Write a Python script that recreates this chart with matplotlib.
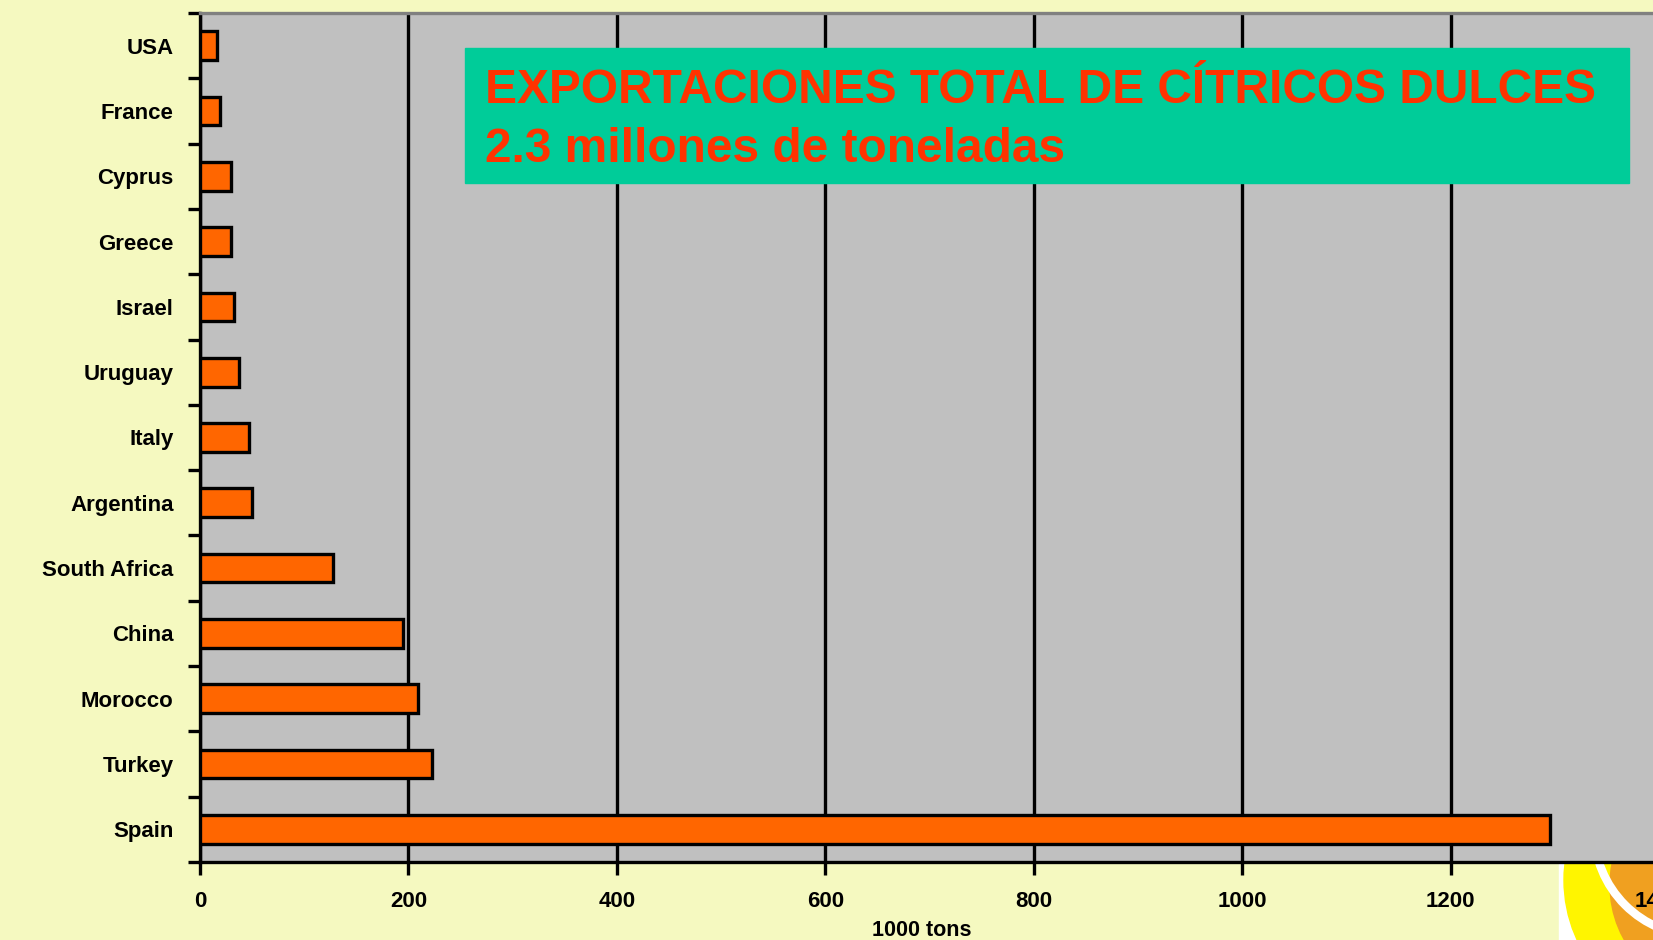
import matplotlib.pyplot as plt
from matplotlib.patches import Rectangle, Circle, Arc

# datos (1000 t)
countries = ['USA', 'France', 'Cyprus', 'Greece', 'Israel', 'Uruguay', 'Italy',
             'Argentina', 'South Africa', 'China', 'Morocco', 'Turkey', 'Spain']
exports = [16, 19, 30, 30, 33, 37, 47, 50, 128, 195, 209, 223, 1295]
xticks = [0, 200, 400, 600, 800, 1000, 1200, 1400]

title1 = 'EXPORTACIONES TOTAL DE CÍTRICOS DULCES'
title2 = '2.3 millones de toneladas'

plt.rcParams['font.family'] = ['Liberation Sans', 'DejaVu Sans']
plt.rcParams['font.weight'] = 'bold'

W, H = 1653, 940
fig = plt.figure(figsize=(W / 100, H / 100), dpi=100, facecolor='#F5F9C0')


def fpos(x, y):
    # pixeles (desde arriba a la izquierda) -> fraccion de figura
    return (x / W, 1 - y / H)


# decoracion esquina inferior derecha (en pixeles de figura)
fig.add_artist(Rectangle(fpos(1559, 940), (W - 1559) / W, 78 / H,
                         transform=fig.transFigure, color='white', zorder=-2))
deco = fig.add_axes([0, 0, 1, 1], zorder=-1)
deco.set_xlim(0, W)
deco.set_ylim(H, 0)
deco.axis('off')
deco.add_patch(Circle((1707, 880), 143, color='#FFF500'))
deco.add_patch(Circle((1722, 885), 112, color='#F0A020'))
deco.add_patch(Arc((1700, 830), 212, 212, theta1=90, theta2=180, color='white', lw=6))
deco.add_patch(Circle((1690, 830), 45, color='white'))

ax = fig.add_axes([200 / W, 78 / H, 1459 / W, 849 / H])
ax.set_facecolor('#C0C0C0')

y = list(range(len(countries)))
ax.barh(y, exports, height=0.44, color='#FF6600', edgecolor='black',
        linewidth=2.4, zorder=3)

ax.set_xlim(0, 1400)
ax.set_ylim(len(countries) - 0.5, -0.5)
ax.set_xticks(xticks)
ax.set_xticklabels([str(v) for v in xticks], fontsize=16, fontweight='bold')
ax.grid(axis='x', color='black', linewidth=2.4, zorder=1)

# etiquetas en el centro, marcas entre categorias
ax.set_yticks([i - 0.5 for i in range(len(countries) + 1)])
ax.set_yticklabels([])
ax.set_yticks(y, minor=True)
ax.set_yticklabels(countries, minor=True, fontsize=16, fontweight='bold')
ax.tick_params(axis='y', which='major', length=9, width=2.4, direction='out')
ax.tick_params(axis='y', which='minor', length=0, pad=19)
ax.tick_params(axis='x', length=9, width=2.4, direction='out', pad=12)

ax.set_xlabel('1000 tons', fontsize=15.5, fontweight='bold')
ax.xaxis.set_label_coords(0.495, -0.068)

for s in ['left', 'bottom']:
    ax.spines[s].set_linewidth(2.4)
ax.spines['top'].set_color('#808080')
ax.spines['top'].set_linewidth(2.4)
ax.spines['right'].set_visible(False)

# cuadro del titulo
ax.add_artist(Rectangle(fpos(465, 183), (1629 - 465) / W, 135 / H,
                        transform=fig.transFigure, color='#00CC99', zorder=5))
ax.text(*fpos(485, 103), title1, transform=fig.transFigure, fontsize=34.5,
        fontweight='bold', color='#FF3300', zorder=6, va='baseline')
ax.text(*fpos(485, 162), title2, transform=fig.transFigure, fontsize=34.5,
        fontweight='bold', color='#FF3300', zorder=6, va='baseline')

plt.savefig('out.png', dpi=100, facecolor=fig.get_facecolor())
